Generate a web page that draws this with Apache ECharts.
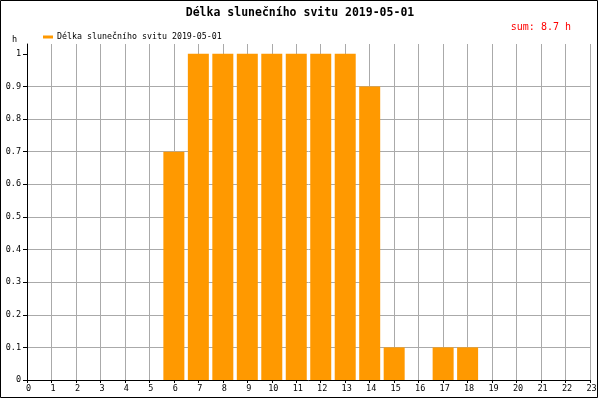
<!DOCTYPE html>
<html><head><meta charset="utf-8">
<script src="https://cdn.jsdelivr.net/npm/echarts@6/dist/echarts.min.js"></script>
<style>html,body{margin:0;padding:0;background:#fff}#c{width:600px;height:400px}</style>
</head><body><div id="c"></div>
<script>
const titleText = 'Délka slunečního svitu 2019-05-01';
const seriesName = 'Délka slunečního svitu 2019-05-01';
const sumText = 'sum: 8.7 h';
const hours = [0,1,2,3,4,5,6,7,8,9,10,11,12,13,14,15,16,17,18,19,20,21,22,23];
const values = [0,0,0,0,0,0,0.7,1,1,1,1,1,1,1,0.9,0.1,0,0.1,0.1,0,0,0,0,0];
const yTicks = [0,0.1,0.2,0.3,0.4,0.5,0.6,0.7,0.8,0.9,1];

const mono = 'DejaVu Sans Mono';
const chart = echarts.init(document.getElementById('c'), null, {renderer:'canvas'});
chart.setOption({
  animation:false,
  backgroundColor:'#fff',
  title:{text:titleText,left:'center',top:2,textStyle:{fontFamily:mono,fontSize:11.5,fontWeight:'bold',color:'#000'}},
  legend:{left:38,top:28,itemWidth:10,itemHeight:3,itemGap:5,icon:'rect',
    textStyle:{fontFamily:mono,fontSize:8.3,color:'#000',padding:[0,0,0,-1]},data:[seriesName]},
  grid:{left:27,right:10,top:44,bottom:20},
  xAxis:{type:'value',min:0,max:23,interval:1,
    axisLine:{lineStyle:{color:'#000',width:1}},
    axisTick:{show:true,length:3,lineStyle:{color:'#000'}},
    axisLabel:{fontFamily:mono,fontSize:8.5,color:'#000',margin:4,padding:[0,0,0,3]},
    splitLine:{show:true,lineStyle:{color:'#aaaaaa',width:1}}},
  yAxis:{type:'value',min:0,max:1.03,interval:0.1,name:'h',nameLocation:'end',nameGap:0,
    nameTextStyle:{fontFamily:mono,fontSize:8.5,color:'#000',align:'right',verticalAlign:'bottom',padding:[0,10,0,0]},
    axisLine:{show:true,lineStyle:{color:'#000',width:1}},
    axisTick:{show:true,length:4,lineStyle:{color:'#000'},customValues:yTicks},
    axisLabel:{fontFamily:mono,fontSize:8.5,color:'#000',margin:6,customValues:yTicks,
      formatter:v=>String(Math.round(v*10)/10)},
    splitLine:{show:true,showMaxLine:false,lineStyle:{color:'#aaaaaa',width:1}}},
  graphic:[
    {type:'text',right:29,top:22,style:{text:sumText,fill:'#ff0000',font:'10px "DejaVu Sans Mono"'}},
    {type:'rect',shape:{x:0.5,y:0.5,width:597,height:397},style:{fill:null,stroke:'#000',lineWidth:1},silent:true}
  ],
  series:[{name:seriesName,type:'bar',barWidth:21,
    itemStyle:{color:'#ff9900'},
    data:hours.map((h,i)=>[h,values[i]])}]
});
</script></body></html>
